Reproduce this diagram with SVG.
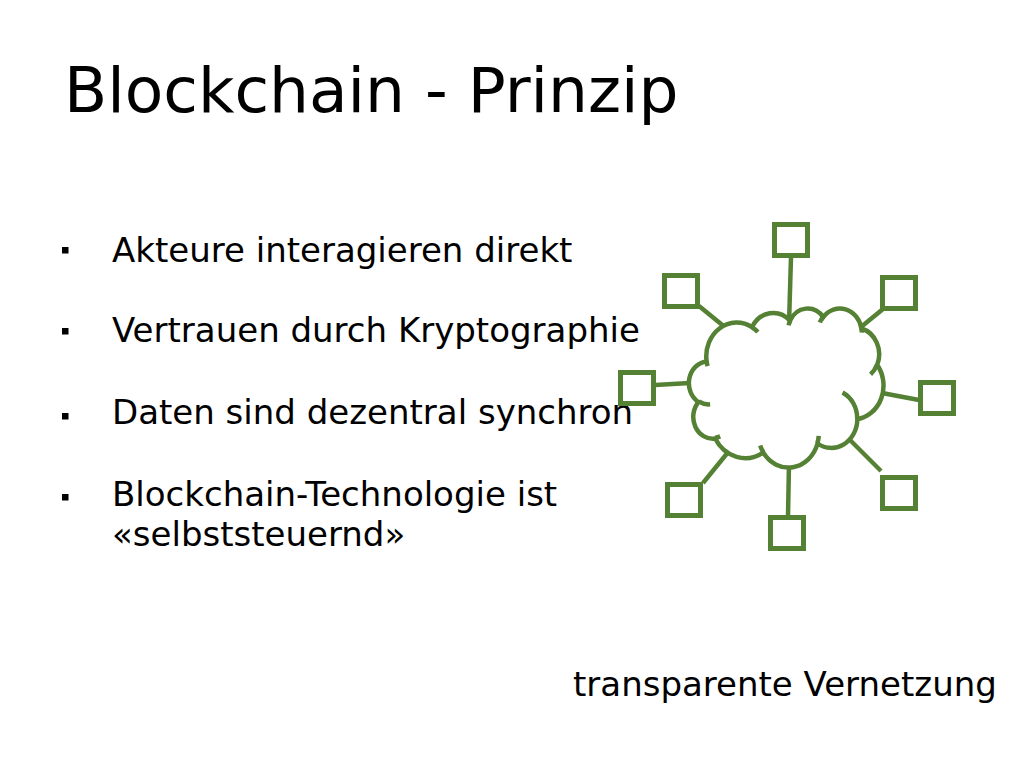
<svg xmlns="http://www.w3.org/2000/svg" width="1024" height="768" viewBox="0 0 1024 768">
<style>
.t{font-family:"DejaVu Sans","Verdana",sans-serif;fill:#000}
.b{font-size:34px}
.node{fill:#fff;stroke:#558134;stroke-width:5}
.edge{stroke:#558134;stroke-width:4.5;fill:none}
.cl{fill:#fff;stroke:#558134;stroke-width:4.5}
.in{fill:none;stroke:#558134;stroke-width:4.5}
</style>
<rect width="1024" height="768" fill="#fff"/>
<text class="t" x="64" y="112" font-size="63">Blockchain - Prinzip</text>
<g id="bullets">
<rect x="62" y="247" width="6.5" height="6.5"/>
<rect x="62" y="328" width="6.5" height="6.5"/>
<rect x="62" y="413" width="6.5" height="6.5"/>
<rect x="62" y="494" width="6.5" height="6.5"/>
<text class="t b" x="112" y="262">Akteure interagieren direkt</text>
<text class="t b" x="112" y="342">Vertrauen durch Kryptographie</text>
<text class="t b" x="112" y="424">Daten sind dezentral synchron</text>
<text class="t b" x="112" y="506">Blockchain-Technologie ist</text>
<text class="t b" x="112" y="546">«selbststeuernd»</text>
</g>
<g id="connectors">
<line class="edge" x1="791" y1="257" x2="789" y2="324"/>
<line class="edge" x1="699" y1="306" x2="726" y2="328"/>
<line class="edge" x1="883" y1="309" x2="861" y2="327"/>
<line class="edge" x1="655" y1="385" x2="690" y2="383"/>
<line class="edge" x1="882" y1="393" x2="919" y2="400"/>
<line class="edge" x1="703" y1="483" x2="729" y2="451"/>
<line class="edge" x1="789" y1="463" x2="788" y2="517"/>
<line class="edge" x1="849" y1="439" x2="881" y2="471"/>
</g>
<g id="cloud" transform="translate(689 308) scale(0.0045 0.00368)">
<path class="cl" vector-effect="non-scaling-stroke" d="M3900 14370 A6753 9190 0 0 1 14005 5202 A5333 7267 0 0 1 22460 3434 A4365 5945 0 0 1 29837 2481 A4857 6595 0 0 1 38322 5577 A5333 7273 0 0 1 41822 15460 A6775 9220 0 0 1 37409 30206 A5785 7867 0 0 1 28561 36816 A6752 9215 0 0 1 16486 39270 A7720 10543 0 0 1 5811 35477 A4360 5918 0 0 1 2118 25557 A4345 5945 0 0 1 3869 14513 Z"/>
<path class="in" vector-effect="non-scaling-stroke" d="M4693 26177 A4345 5945 0 0 1 2160 25380 M6928 34899 A4360 5918 0 0 1 5820 35280 M16478 39090 A6752 9215 0 0 1 15809 37347 M28827 34751 A6752 9215 0 0 1 28560 36660 M34129 22954 A5785 7867 0 0 1 37380 30090 M41798 15354 A5333 7273 0 0 1 40350 18031 M38324 5426 A4857 6595 0 0 1 38400 6690 M29078 3952 A4857 6595 0 0 1 29820 2340 M22141 4720 A4365 5945 0 0 1 22500 3330 M14000 5192 A6753 9190 0 0 1 15304 6546 M4127 15789 A6753 9190 0 0 1 3900 14371"/>
</g>
<g id="node-top"><rect class="node" x="774.5" y="224.5" width="33" height="31"/></g>
<g id="node-ul"><rect class="node" x="664.5" y="275.5" width="33" height="31"/></g>
<g id="node-ur"><rect class="node" x="882.5" y="277.5" width="33" height="31"/></g>
<g id="node-l"><rect class="node" x="620.5" y="372.5" width="33" height="31"/></g>
<g id="node-r"><rect class="node" x="920.5" y="382.5" width="33" height="31"/></g>
<g id="node-ll"><rect class="node" x="667.5" y="484.5" width="33" height="31"/></g>
<g id="node-b"><rect class="node" x="770.5" y="517.5" width="33" height="31"/></g>
<g id="node-lr"><rect class="node" x="882.5" y="477.5" width="33" height="31"/></g>
<text class="t b" x="573" y="696">transparente Vernetzung</text>
</svg>
